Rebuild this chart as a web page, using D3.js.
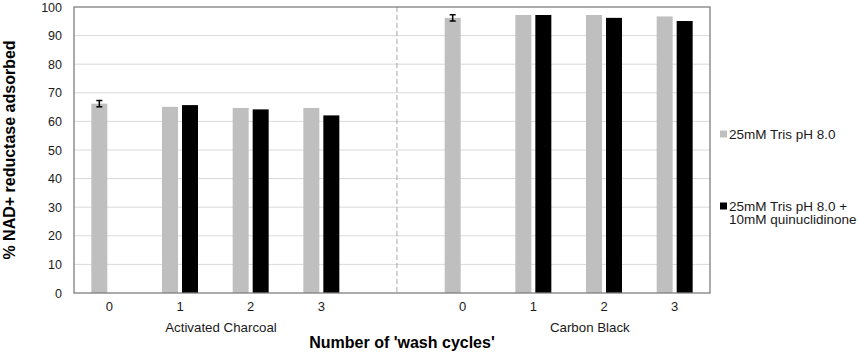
<!DOCTYPE html>
<html>
<head>
<meta charset="utf-8">
<script src="https://cdn.jsdelivr.net/npm/d3@7"></script>
<style>
  html, body { margin: 0; padding: 0; background: #fff; }
  svg { display: block; font-family: "Liberation Sans", Arial, sans-serif; }
</style>
</head>
<body>
<svg id="chart" width="858" height="352"></svg>
<script>
// ---- data ----
const categories = ["AC-0", "AC-1", "AC-2", "AC-3", "gap", "CB-0", "CB-1", "CB-2", "CB-3"];
const tickLabels = ["0", "1", "2", "3", "", "0", "1", "2", "3"];
const seriesNames = ["25mM Tris pH 8.0", "25mM Tris pH 8.0 +\n10mM quinuclidinone"];
const seriesColors = ["#bfbfbf", "#000000"];
const trisValues =       [66.2, 65.1, 64.7, 64.7, null, 96.2, 97.2, 97.2, 96.7];
const quinValues =       [null, 65.7, 64.2, 62.1, null, null, 97.2, 96.2, 95.1];
const trisErrors =       [1.1, null, null, null, null, 1.1, null, null, null];
const groupNames = ["Activated Charcoal", "Carbon Black"];
const groupPositions = [1.58, 6.8];   // in category index units
const dividerPosition = 4.07;         // in category index units
const yTicks = [0, 10, 20, 30, 40, 50, 60, 70, 80, 90, 100];

// ---- layout ----
const svg = d3.select("#chart");
const plotL = 74, plotR = 710, plotT = 7, plotB = 293;

const x = d3.scaleBand().domain(categories).range([plotL, plotR]).padding(0);
const xIdx = d3.scaleLinear().domain([0, categories.length]).range([plotL, plotR]);
const y = d3.scaleLinear().domain([0, 100]).range([plotB, plotT]);
const clusterWidth = 36;
const xs = d3.scaleBand().domain([0, 1]).range([0, clusterWidth]).paddingInner(0.2).paddingOuter(0);
const clusterOffset = (x.bandwidth() - clusterWidth) / 2;

// gridlines
svg.append("g")
  .selectAll("line")
  .data(yTicks.filter(d => d > 0 && d < 100))
  .join("line")
  .attr("x1", plotL).attr("x2", plotR)
  .attr("y1", d => y(d)).attr("y2", d => y(d))
  .attr("stroke", "#d9d9d9").attr("stroke-width", 1);

// divider
svg.append("line")
  .attr("x1", xIdx(dividerPosition + 0.5)).attr("x2", xIdx(dividerPosition + 0.5))
  .attr("y1", plotT).attr("y2", plotB)
  .attr("stroke", "#a6a6a6").attr("stroke-width", 1)
  .attr("stroke-dasharray", "5,3");

// bars
const seriesData = [trisValues, quinValues];
seriesData.forEach((vals, si) => {
  svg.append("g")
    .selectAll("rect")
    .data(categories.map((c, i) => ({ c, v: vals[i] })).filter(d => d.v != null))
    .join("rect")
    .attr("x", d => x(d.c) + clusterOffset + xs(si))
    .attr("width", xs.bandwidth())
    .attr("y", d => y(d.v))
    .attr("height", d => y(0) - y(d.v))
    .attr("fill", seriesColors[si]);
});

// error bars
const errData = categories.map((c, i) => ({ c, v: trisValues[i], e: trisErrors[i] })).filter(d => d.e != null);
const eg = svg.append("g").attr("stroke", "#000").attr("stroke-width", 1.5);
errData.forEach(d => {
  const cx = x(d.c) + clusterOffset + xs(0) + xs.bandwidth() / 2;
  eg.append("line").attr("x1", cx).attr("x2", cx).attr("y1", y(d.v + d.e)).attr("y2", y(d.v - d.e));
  eg.append("line").attr("x1", cx - 3).attr("x2", cx + 3).attr("y1", y(d.v + d.e)).attr("y2", y(d.v + d.e));
  eg.append("line").attr("x1", cx - 3).attr("x2", cx + 3).attr("y1", y(d.v - d.e)).attr("y2", y(d.v - d.e));
});

// frame
svg.append("rect")
  .attr("x", plotL).attr("y", plotT).attr("width", plotR - plotL).attr("height", plotB - plotT)
  .attr("fill", "none").attr("stroke", "#7f7f7f").attr("stroke-width", 1.3);

// y axis labels
const yAxis = d3.axisLeft(y).tickValues(yTicks).tickSize(0).tickPadding(12);
const gy = svg.append("g").attr("transform", `translate(${plotL},0)`).call(yAxis);
gy.select(".domain").remove();
gy.selectAll("text").attr("font-size", 12.5).attr("fill", "#1a1a1a")
  .attr("font-family", "'Liberation Sans', Arial, sans-serif");

// x axis labels
const xAxis = d3.axisBottom(x).tickFormat((d, i) => tickLabels[i]).tickSize(0).tickPadding(9);
const gx = svg.append("g").attr("transform", `translate(0,${plotB})`).call(xAxis);
gx.select(".domain").remove();
gx.selectAll("text").attr("font-size", 13).attr("fill", "#1a1a1a")
  .attr("font-family", "'Liberation Sans', Arial, sans-serif");

// group labels
svg.append("g")
  .selectAll("text")
  .data(groupNames)
  .join("text")
  .attr("x", (d, i) => xIdx(groupPositions[i] + 0.5))
  .attr("y", 332)
  .attr("text-anchor", "middle")
  .attr("font-size", 13.3)
  .attr("fill", "#1a1a1a")
  .text(d => d);

// axis titles
svg.append("text")
  .attr("x", 402).attr("y", 348)
  .attr("text-anchor", "middle")
  .attr("font-size", 16).attr("font-weight", "bold").attr("fill", "#000")
  .text("Number of 'wash cycles'");

svg.append("text")
  .attr("transform", "translate(15,150) rotate(-90)")
  .attr("text-anchor", "middle")
  .attr("font-size", 16).attr("font-weight", "bold").attr("fill", "#000")
  .text("% NAD+ reductase adsorbed");

// legend
const legendY = [134, 206];
const lg = svg.append("g");
seriesNames.forEach((name, i) => {
  lg.append("rect")
    .attr("x", 720).attr("y", legendY[i] - 3.5).attr("width", 7).attr("height", 7)
    .attr("fill", seriesColors[i]);
  const lines = name.split("\n");
  lines.forEach((ln, j) => {
    lg.append("text")
      .attr("x", 729).attr("y", legendY[i] + j * 13.5 + 4.8)
      .attr("font-size", 13.5).attr("fill", "#1a1a1a")
      .text(ln);
  });
});
</script>
</body>
</html>
